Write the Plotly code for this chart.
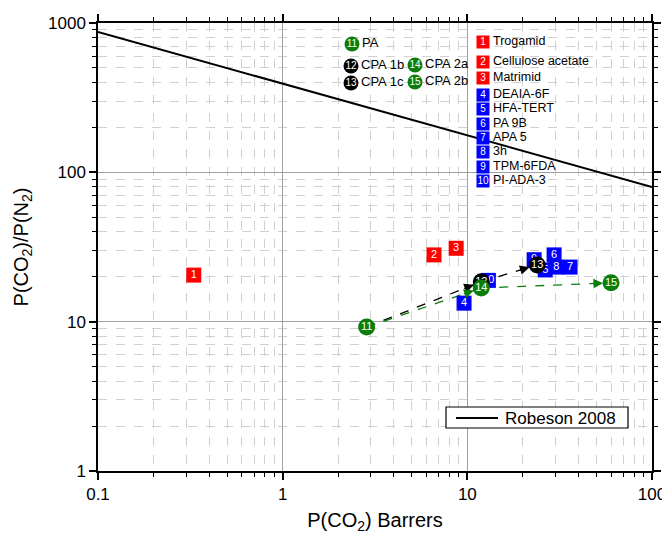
import math
import plotly.graph_objects as go

# ---------------- data ----------------
sq_ids = ["1", "2", "3", "4", "5", "6", "7", "8", "9", "10"]
sq_names = ["Trogamid", "Cellulose acetate", "Matrimid", "DEAIA-6F", "HFA-TERT",
            "PA 9B", "APA 5", "3h", "TPM-6FDA", "PI-ADA-3"]
sq_pco2 = [0.33, 6.6, 8.7, 9.6, 26.4, 29.5, 36.0, 30.3, 23.0, 13.0]
sq_sel = [20.5, 28.0, 31.0, 13.3, 22.2, 28.0, 23.2, 23.2, 26.0, 18.9]
sq_colors = ["#ff0000"] * 3 + ["#0000ff"] * 7

ci_ids = ["11", "12", "13", "14", "15"]
ci_names = ["PA", "CPA 1b", "CPA 1c", "CPA 2a", "CPA 2b"]
ci_pco2 = [2.85, 11.9, 23.9, 11.9, 60.0]
ci_sel = [9.2, 18.5, 24.0, 16.8, 18.2]
ci_colors = ["#0b7d0b", "#000000", "#000000", "#0b7d0b", "#0b7d0b"]

# arrows (from index, to index, colour) into circle lists
arrows = [(0, 1, "#000000"), (1, 2, "#000000"), (0, 3, "#0b7d0b"), (3, 4, "#0b7d0b")]

rob_name = "Robeson 2008"
rob_x = [0.1, 100]
rob_y = [871, 79.7]

x_ticks = [0.1, 1, 10, 100]
x_ticklabels = ["0.1", "1", "10", "100"]
y_ticks = [1, 10, 100, 1000]
y_ticklabels = ["1", "10", "100", "1000"]

FONT = "Arial, 'Liberation Sans', sans-serif"
OFF = 8  # page body margin
W, H = 670 - OFF, 541 - OFF
# plot area in page pixels
PL, PR, PT, PB = 98, 652, 23, 471
PW, PH = PR - PL, PB - PT
ML, MT = PL - OFF, PT - OFF
MR, MB = W - (PR - OFF), H - (PB - OFF)

fig = go.Figure()

# Robeson bound
fig.add_trace(go.Scatter(x=rob_x, y=rob_y, mode="lines", name=rob_name,
                         line=dict(color="black", width=2), showlegend=False))

# dashed arrow shafts
for a, b, c in arrows:
    fig.add_trace(go.Scatter(x=[ci_pco2[a], ci_pco2[b]], y=[ci_sel[a], ci_sel[b]],
                             mode="lines", line=dict(color=c, width=1.3, dash="dash"),
                             showlegend=False, hoverinfo="skip"))

# squares
fig.add_trace(go.Scatter(x=sq_pco2, y=sq_sel, mode="markers+text", text=sq_ids,
                         textposition="middle center",
                         textfont=dict(color="white", size=11, family=FONT),
                         marker=dict(symbol="square", size=15, color=sq_colors,
                                     line=dict(width=0)),
                         showlegend=False))
# circles (one at a time for stacking order)
for i in range(len(ci_ids)):
    fig.add_trace(go.Scatter(x=[ci_pco2[i]], y=[ci_sel[i]], mode="markers+text",
                             text=[ci_ids[i]], textposition="middle center",
                             textfont=dict(color="white", size=11, family=FONT),
                             marker=dict(symbol="circle", size=17, color=ci_colors[i],
                                         line=dict(width=0)),
                             showlegend=False))

# ---------- custom key drawn on an overlay axis in plot-pixel units ----------
def pos(px, py):
    return px - PL, PB - py

circ_leg = [(352, 44), (351, 66), (351, 83), (415, 65), (415, 82)]
sq_leg_y = [42, 62, 78, 95, 109, 124, 138, 152, 167, 181]

cx = [pos(p[0], p[1])[0] for p in circ_leg]
cy = [pos(p[0], p[1])[1] for p in circ_leg]
fig.add_trace(go.Scatter(x=cx, y=cy, xaxis="x2", yaxis="y2", mode="markers+text",
                         text=ci_ids, textposition="middle center",
                         textfont=dict(color="white", size=10, family=FONT),
                         marker=dict(symbol="circle", size=15, color=ci_colors,
                                     line=dict(width=0)),
                         showlegend=False, hoverinfo="skip"))
fig.add_trace(go.Scatter(x=[v + 10 for v in cx], y=cy, xaxis="x2", yaxis="y2",
                         mode="text", text=ci_names, textposition="middle right",
                         textfont=dict(color="black", size=13, family=FONT),
                         showlegend=False, hoverinfo="skip"))

sx = [pos(483, py)[0] for py in sq_leg_y]
sy = [pos(483, py)[1] for py in sq_leg_y]
fig.add_trace(go.Scatter(x=sx, y=sy, xaxis="x2", yaxis="y2", mode="markers+text",
                         text=sq_ids, textposition="middle center",
                         textfont=dict(color="white", size=10, family=FONT),
                         marker=dict(symbol="square", size=13, color=sq_colors,
                                     line=dict(width=0)),
                         showlegend=False, hoverinfo="skip"))
fig.add_trace(go.Scatter(x=[v + 10 for v in sx], y=sy, xaxis="x2", yaxis="y2",
                         mode="text", text=sq_names, textposition="middle right",
                         textfont=dict(color="black", size=12.5, family=FONT),
                         showlegend=False, hoverinfo="skip"))

annotations = []
# arrow heads
xs = PW / 3.0  # px per decade
ys = PH / 3.0
for a, b, c in arrows:
    dx = (math.log10(ci_pco2[b]) - math.log10(ci_pco2[a])) * xs
    dy = -(math.log10(ci_sel[b]) - math.log10(ci_sel[a])) * ys
    L = math.hypot(dx, dy)
    tail = 20
    annotations.append(dict(x=math.log10(ci_pco2[b]), y=math.log10(ci_sel[b]),
                            xref="x", yref="y", ax=-dx / L * tail, ay=-dy / L * tail,
                            showarrow=True, arrowhead=2, arrowsize=1.6, arrowwidth=1.2,
                            arrowcolor=c, standoff=8, text=""))

# Robeson key box
def px2paper(px, py):
    return (px - PL) / PW, (PB - py) / PH

bx0, by0 = px2paper(446, 428)
bx1, by1 = px2paper(628, 407)
lx0, ly = px2paper(456, 418)
lx1, _ = px2paper(498, 418)
tx, _ = px2paper(503, 418)
shapes = [
    dict(type="rect", xref="paper", yref="paper", x0=bx0, x1=bx1, y0=by0, y1=by1,
         fillcolor="white", line=dict(color="black", width=1.2), layer="above"),
    dict(type="line", xref="paper", yref="paper", x0=lx0, x1=lx1, y0=ly, y1=ly,
         line=dict(color="black", width=2), layer="above"),
]
annotations.append(dict(x=tx, y=ly, xref="paper", yref="paper", text=rob_name,
                        showarrow=False, xanchor="left", yanchor="middle",
                        font=dict(size=17, family=FONT, color="black")))

axis_common = dict(type="log", showline=True, linecolor="black", linewidth=1.5,
                   mirror="ticks", ticks="outside", ticklen=7, tickwidth=1.5,
                   tickcolor="black", showgrid=True, gridcolor="#a0a0a0", gridwidth=1,
                   zeroline=False, automargin=False,
                   tickfont=dict(size=17, family=FONT, color="black"),
                   minor=dict(ticks="outside", ticklen=4, tickwidth=1, tickcolor="black",
                              showgrid=True, gridcolor="#d0d0d0", griddash="dash",
                              dtick="D1"))

fig.update_layout(
    width=W, height=H,
    margin=dict(l=ML, r=MR, t=MT, b=MB, autoexpand=False),
    paper_bgcolor="white", plot_bgcolor="white",
    font=dict(family=FONT, color="black"),
    xaxis=dict(axis_common, range=[-1, 2], tickvals=x_ticks, ticktext=x_ticklabels,
               title=dict(text="P(CO<sub>2</sub>) Barrers", font=dict(size=20, family=FONT),
                          standoff=10)),
    yaxis=dict(axis_common, range=[0, 3], tickvals=y_ticks, ticktext=y_ticklabels,
               title=dict(text="P(CO<sub>2</sub>)/P(N<sub>2</sub>)", font=dict(size=20, family=FONT),
                          standoff=14)),
    xaxis2=dict(range=[0, PW], overlaying="x", visible=False, fixedrange=True),
    yaxis2=dict(range=[0, PH], overlaying="y", visible=False, fixedrange=True),
    shapes=shapes,
    annotations=annotations,
    showlegend=False,
)

fig.write_html("out.html")
